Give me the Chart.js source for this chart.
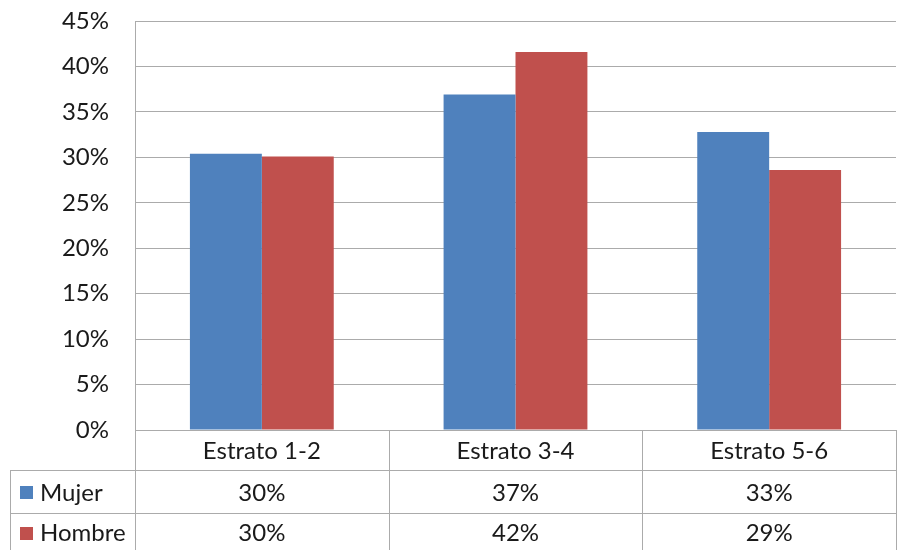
<!DOCTYPE html>
<html>
<head>
<meta charset="utf-8">
<script src="https://cdn.jsdelivr.net/npm/chart.js@4.4.1/dist/chart.umd.min.js"></script>
<style>
  html, body { margin: 0; padding: 0; background: #fff; }
  #wrap { width: 897px; height: 550px; }
</style>
</head>
<body>
<div id="wrap"><canvas id="c" width="897" height="550"></canvas></div>
<script>
// Share by socioeconomic stratum (%)
const categories = ['Estrato 1-2', 'Estrato 3-4', 'Estrato 5-6'];
const seriesNames = ['Mujer', 'Hombre'];
const mujer = [30.4, 36.9, 32.8];
const hombre = [30.1, 41.6, 28.6];
const yTicks = [0, 5, 10, 15, 20, 25, 30, 35, 40, 45];

const colors = ['#4F81BD', '#C0504D'];
const lineColor = '#ababab';
const textColor = '#1a1a1a';
const FONT = 'Lato, "Liberation Sans", sans-serif';
const FONT_SIZE = 24;

// Data table drawn under the plot, aligned with the category scale
const dataTable = {
  id: 'dataTable',
  afterDraw(chart) {
    const ctx = chart.ctx;
    const area = chart.chartArea;
    const x = chart.scales.x;
    const n = categories.length;
    const step = (area.right - area.left) / n;
    const bounds = [];
    for (let i = 0; i <= n; i++) bounds.push(area.left + step * i);

    const tableLeft = 10;
    const headerBottom = 470.5;
    const row1Bottom = 513.5;
    const bottom = chart.height + 2;

    ctx.save();
    ctx.strokeStyle = lineColor;
    ctx.lineWidth = 1;
    ctx.beginPath();
    // column separators
    bounds.forEach(b => {
      const bx = Math.round(b) + 0.5;
      ctx.moveTo(bx, area.bottom);
      ctx.lineTo(bx, bottom);
    });
    // left border of the legend column
    ctx.moveTo(tableLeft + 0.5, headerBottom);
    ctx.lineTo(tableLeft + 0.5, bottom);
    // row separators
    ctx.moveTo(tableLeft, headerBottom);
    ctx.lineTo(area.right, headerBottom);
    ctx.moveTo(tableLeft, row1Bottom);
    ctx.lineTo(area.right, row1Bottom);
    ctx.stroke();

    ctx.fillStyle = textColor;
    ctx.font = FONT_SIZE + 'px ' + FONT;
    ctx.textAlign = 'center';
    ctx.textBaseline = 'middle';

    const headerY = (area.bottom + headerBottom) / 2 + 1;
    const rowYs = [(headerBottom + row1Bottom) / 2 + 1, row1Bottom + 20];

    categories.forEach((c, i) => {
      ctx.fillText(c, x.getPixelForValue(i), headerY);
    });

    chart.data.datasets.forEach((ds, r) => {
      const y = rowYs[r];
      ds.data.forEach((v, i) => {
        ctx.fillText(Math.round(v) + '%', x.getPixelForValue(i), y);
      });
      // legend key
      ctx.fillStyle = ds.backgroundColor;
      ctx.fillRect(20, Math.round(y - 7), 13, 13);
      ctx.fillStyle = textColor;
      ctx.textAlign = 'left';
      ctx.fillText(ds.label, 40, y);
      ctx.textAlign = 'center';
    });
    ctx.restore();
  }
};

new Chart(document.getElementById('c'), {
  type: 'bar',
  data: {
    labels: categories,
    datasets: [
      { label: seriesNames[0], data: mujer, backgroundColor: colors[0] },
      { label: seriesNames[1], data: hombre, backgroundColor: colors[1] }
    ]
  },
  options: {
    responsive: false,
    animation: false,
    events: [],
    layout: { padding: { top: 21, right: 1, bottom: 120, left: 0 } },
    datasets: {
      bar: { categoryPercentage: 0.567, barPercentage: 1.0, borderWidth: 0 }
    },
    plugins: {
      legend: { display: false },
      tooltip: { enabled: false },
      title: { display: false }
    },
    scales: {
      x: {
        display: false,
        offset: true
      },
      y: {
        min: 0,
        max: 45,
        afterBuildTicks(scale) {
          scale.ticks = yTicks.map(v => ({ value: v }));
        },
        afterFit(scale) {
          scale.width = 135;
          scale.paddingTop = 0;
          scale.paddingBottom = 0;
        },
        border: { display: true, color: lineColor, width: 1 },
        grid: { color: lineColor, lineWidth: 1, drawTicks: false },
        ticks: {
          padding: 26,
          color: textColor,
          font: { family: FONT, size: FONT_SIZE },
          callback: v => v + '%'
        }
      }
    }
  },
  plugins: [dataTable]
});
</script>
</body>
</html>
